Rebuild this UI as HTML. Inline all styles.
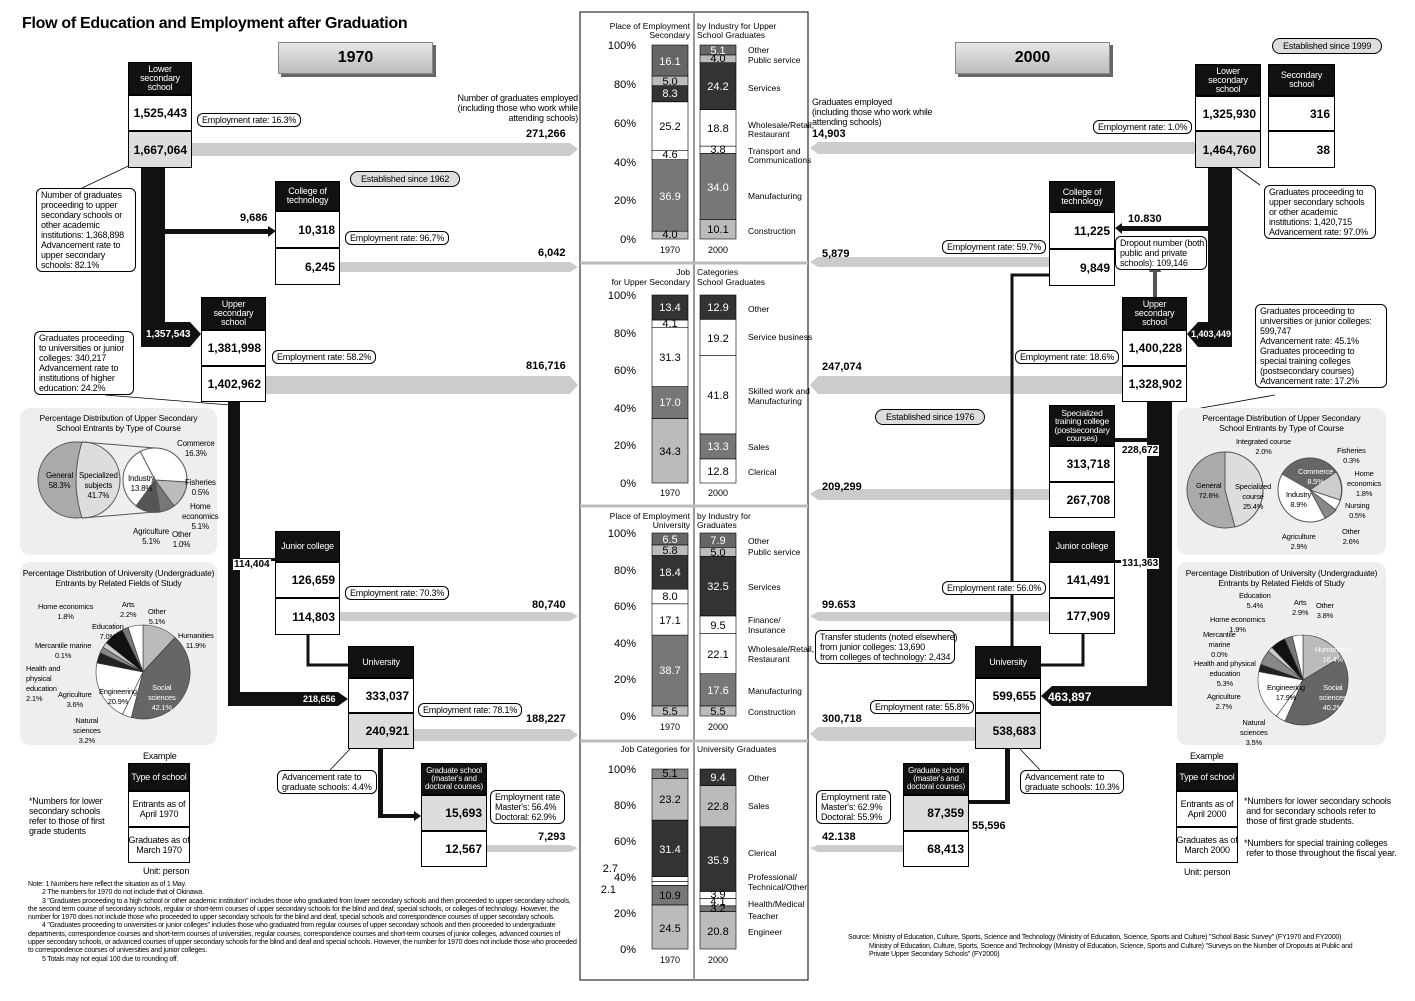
<!DOCTYPE html>
<html><head><meta charset="utf-8">
<style>
*{margin:0;padding:0;box-sizing:border-box}
body{width:1415px;height:1001px;position:relative;background:#fff;font-family:"Liberation Sans",sans-serif;color:#000;overflow:hidden}
.a{position:absolute}
.hd{position:absolute;background:#111;color:#fff;font-family:"Liberation Sans Narrow","Liberation Sans",sans-serif;font-size:9px;line-height:9px;text-align:center;display:flex;align-items:center;justify-content:center;border:1px solid #000;letter-spacing:-0.2px}
.bx{position:absolute;background:#fff;border:1px solid #000;font-weight:bold;font-size:12px;display:flex;align-items:center;justify-content:flex-end;padding-right:4px}
.g{background:#ddd}
.co{position:absolute;background:#fff;border:1px solid #000;border-radius:6px;font-family:"Liberation Sans Narrow","Liberation Sans",sans-serif;font-size:9px;line-height:10px;padding:1px 4px;letter-spacing:-0.2px}
.t{position:absolute;font-family:"Liberation Sans Narrow","Liberation Sans",sans-serif;font-size:9px;line-height:10px;letter-spacing:-0.2px}
.n{position:absolute;font-size:11px;font-weight:bold}
.nb{position:absolute;font-size:10px;font-weight:bold;background:#fff;padding:0 1px}
.nw{position:absolute;font-size:10px;font-weight:bold;color:#fff}
.ban{position:absolute;width:155px;height:32px;background:linear-gradient(#e8e8e8,#bbb);border:1px solid #888;box-shadow:3px 3px 0 #666;font-weight:bold;font-size:16px;text-align:center;line-height:30px}
.ex{position:absolute;background:#fff;border:1px solid #000;font-family:"Liberation Sans Narrow","Liberation Sans",sans-serif;font-size:9px;line-height:10px;display:flex;align-items:center;justify-content:center;text-align:center;letter-spacing:-0.2px}
</style></head><body>
<svg class="a" style="left:0;top:0" width="1415" height="1001">
<rect x="580" y="12" width="228" height="968" fill="#fff" stroke="#000"/>
<line x1="694" y1="12" x2="694" y2="980" stroke="#999" stroke-width="2"/>
<line x1="580" y1="263" x2="808" y2="263" stroke="#bbb" stroke-width="3"/>
<line x1="580" y1="506" x2="808" y2="506" stroke="#bbb" stroke-width="3"/>
<line x1="580" y1="741" x2="808" y2="741" stroke="#bbb" stroke-width="3"/>
<g stroke="#000" stroke-width="0.6">
<rect x="652" y="231.2" width="36" height="7.8" fill="#bbb"/>
<rect x="652" y="159.7" width="36" height="71.5" fill="#777"/>
<rect x="652" y="150.7" width="36" height="9" fill="#fff"/>
<rect x="652" y="101.8" width="36" height="48.9" fill="#fff"/>
<rect x="652" y="85.7" width="36" height="16.1" fill="#333"/>
<rect x="652" y="76" width="36" height="9.7" fill="#bbb"/>
<rect x="652" y="45" width="36" height="31" fill="#666"/>
<rect x="700" y="219.4" width="36" height="19.6" fill="#bbb"/>
<rect x="700" y="153.4" width="36" height="66" fill="#777"/>
<rect x="700" y="146.1" width="36" height="7.3" fill="#fff"/>
<rect x="700" y="109.6" width="36" height="36.5" fill="#fff"/>
<rect x="700" y="62.7" width="36" height="46.9" fill="#333"/>
<rect x="700" y="54.9" width="36" height="7.8" fill="#bbb"/>
<rect x="700" y="45" width="36" height="9.9" fill="#666"/>
<rect x="652" y="418.5" width="36" height="64.5" fill="#bbb"/>
<rect x="652" y="386.6" width="36" height="31.9" fill="#777"/>
<rect x="652" y="327.7" width="36" height="58.9" fill="#fff"/>
<rect x="652" y="320" width="36" height="7.7" fill="#fff"/>
<rect x="652" y="295" width="36" height="25" fill="#333"/>
<rect x="700" y="458.9" width="36" height="24.1" fill="#fff"/>
<rect x="700" y="433.9" width="36" height="25" fill="#777"/>
<rect x="700" y="355.3" width="36" height="78.6" fill="#fff"/>
<rect x="700" y="319.3" width="36" height="36" fill="#fff"/>
<rect x="700" y="295" width="36" height="24.3" fill="#333"/>
<rect x="652" y="705.9" width="36" height="10.1" fill="#bbb"/>
<rect x="652" y="635.1" width="36" height="70.8" fill="#777"/>
<rect x="652" y="603.8" width="36" height="31.3" fill="#fff"/>
<rect x="652" y="589.2" width="36" height="14.6" fill="#fff"/>
<rect x="652" y="555.5" width="36" height="33.7" fill="#333"/>
<rect x="652" y="544.9" width="36" height="10.6" fill="#bbb"/>
<rect x="652" y="533" width="36" height="11.9" fill="#666"/>
<rect x="700" y="705.9" width="36" height="10.1" fill="#bbb"/>
<rect x="700" y="673.7" width="36" height="32.2" fill="#777"/>
<rect x="700" y="633.3" width="36" height="40.4" fill="#fff"/>
<rect x="700" y="615.9" width="36" height="17.4" fill="#fff"/>
<rect x="700" y="556.4" width="36" height="59.5" fill="#333"/>
<rect x="700" y="547.3" width="36" height="9.1" fill="#bbb"/>
<rect x="700" y="533" width="36" height="14.3" fill="#666"/>
<rect x="652" y="904.9" width="36" height="44.1" fill="#bbb"/>
<rect x="652" y="885.3" width="36" height="19.6" fill="#777"/>
<rect x="652" y="881.5" width="36" height="3.8" fill="#fff"/>
<rect x="652" y="876.6" width="36" height="4.9" fill="#fff"/>
<rect x="652" y="820.1" width="36" height="56.5" fill="#333"/>
<rect x="652" y="778.4" width="36" height="41.7" fill="#bbb"/>
<rect x="652" y="769" width="36" height="9.4" fill="#888"/>
<rect x="700" y="911.6" width="36" height="37.4" fill="#bbb"/>
<rect x="700" y="905.8" width="36" height="5.8" fill="#777"/>
<rect x="700" y="898.4" width="36" height="7.4" fill="#fff"/>
<rect x="700" y="891.4" width="36" height="7" fill="#fff"/>
<rect x="700" y="826.8" width="36" height="64.6" fill="#333"/>
<rect x="700" y="785.7" width="36" height="41.1" fill="#bbb"/>
<rect x="700" y="769" width="36" height="16.7" fill="#333"/>
</g>
<g font-size="11" text-anchor="middle" font-family="Liberation Sans">
<text x="670" y="238">4.0</text><text x="670" y="200" fill="#fff">36.9</text><text x="670" y="158">4.6</text><text x="670" y="130">25.2</text><text x="670" y="97" fill="#fff">8.3</text><text x="670" y="85">5.0</text><text x="670" y="65" fill="#fff">16.1</text>
<text x="718" y="233">10.1</text><text x="718" y="191" fill="#fff">34.0</text><text x="718" y="153">3.8</text><text x="718" y="132">18.8</text><text x="718" y="90" fill="#fff">24.2</text><text x="718" y="62">4.0</text><text x="718" y="54" fill="#fff">5.1</text>
<text x="670" y="455">34.3</text><text x="670" y="406" fill="#fff">17.0</text><text x="670" y="361">31.3</text><text x="670" y="327">4.1</text><text x="670" y="311" fill="#fff">13.4</text>
<text x="718" y="475">12.8</text><text x="718" y="450" fill="#fff">13.3</text><text x="718" y="399">41.8</text><text x="718" y="342">19.2</text><text x="718" y="311" fill="#fff">12.9</text>
<text x="670" y="715">5.5</text><text x="670" y="674" fill="#fff">38.7</text><text x="670" y="624">17.1</text><text x="670" y="600">8.0</text><text x="670" y="576" fill="#fff">18.4</text><text x="670" y="554">5.8</text><text x="670" y="543" fill="#fff">6.5</text>
<text x="718" y="715">5.5</text><text x="718" y="694" fill="#fff">17.6</text><text x="718" y="658">22.1</text><text x="718" y="629">9.5</text><text x="718" y="590" fill="#fff">32.5</text><text x="718" y="556">5.0</text><text x="718" y="544" fill="#fff">7.9</text>
<text x="670" y="932">24.5</text><text x="670" y="899">10.9</text><text x="670" y="853" fill="#fff">31.4</text><text x="670" y="803">23.2</text><text x="670" y="777">5.1</text>
<text x="718" y="935">20.8</text><text x="718" y="912">3.2</text><text x="718" y="905">4.1</text><text x="718" y="898">3.9</text><text x="718" y="864" fill="#fff">35.9</text><text x="718" y="810">22.8</text><text x="718" y="781" fill="#fff">9.4</text>
</g>
<g font-size="11" text-anchor="end" font-family="Liberation Sans">
<text x="636" y="49">100%</text><text x="636" y="88">80%</text><text x="636" y="127">60%</text><text x="636" y="166">40%</text><text x="636" y="204">20%</text><text x="636" y="243">0%</text>
<text x="636" y="299">100%</text><text x="636" y="337">80%</text><text x="636" y="374">60%</text><text x="636" y="412">40%</text><text x="636" y="449">20%</text><text x="636" y="487">0%</text>
<text x="636" y="537">100%</text><text x="636" y="574">80%</text><text x="636" y="610">60%</text><text x="636" y="647">40%</text><text x="636" y="683">20%</text><text x="636" y="720">0%</text>
<text x="636" y="773">100%</text><text x="636" y="809">80%</text><text x="636" y="845">60%</text><text x="636" y="881">40%</text><text x="636" y="917">20%</text><text x="636" y="953">0%</text>
<text x="618" y="872">2.7</text><text x="616" y="893">2.1</text>
</g>
<g font-size="9" text-anchor="middle" font-family="Liberation Sans">
<text x="670" y="496">1970</text><text x="718" y="496">2000</text>
<text x="670" y="730">1970</text><text x="718" y="730">2000</text>
<text x="670" y="963">1970</text><text x="718" y="963">2000</text>
<text x="670" y="253">1970</text><text x="718" y="253">2000</text>
</g>
<g font-size="8.5" font-family="Liberation Sans Narrow, Liberation Sans">
<text x="690" y="29" text-anchor="end">Place of Employment</text><text x="690" y="38" text-anchor="end">Secondary</text>
<text x="697" y="29">by Industry for Upper</text><text x="697" y="38">School Graduates</text>
<text x="690" y="275" text-anchor="end">Job</text><text x="690" y="285" text-anchor="end">for Upper Secondary</text>
<text x="697" y="275">Categories</text><text x="697" y="285">School Graduates</text>
<text x="690" y="519" text-anchor="end">Place of Employment</text><text x="690" y="528" text-anchor="end">University</text>
<text x="697" y="519">by Industry for</text><text x="697" y="528">Graduates</text>
<text x="690" y="752" text-anchor="end">Job Categories for</text><text x="697" y="752">University Graduates</text>
<text x="748" y="53">Other</text><text x="748" y="63">Public service</text><text x="748" y="91">Services</text><text x="748" y="128">Wholesale/Retail,</text><text x="748" y="137">Restaurant</text><text x="748" y="154">Transport and</text><text x="748" y="163">Communications</text><text x="748" y="199">Manufacturing</text><text x="748" y="234">Construction</text>
<text x="748" y="312">Other</text><text x="748" y="340">Service business</text><text x="748" y="394">Skilled work and</text><text x="748" y="404">Manufacturing</text><text x="748" y="450">Sales</text><text x="748" y="475">Clerical</text>
<text x="748" y="544">Other</text><text x="748" y="555">Public service</text><text x="748" y="590">Services</text><text x="748" y="623">Finance/</text><text x="748" y="633">Insurance</text><text x="748" y="652">Wholesale/Retail,</text><text x="748" y="662">Restaurant</text><text x="748" y="694">Manufacturing</text><text x="748" y="715">Construction</text>
<text x="748" y="781">Other</text><text x="748" y="809">Sales</text><text x="748" y="856">Clerical</text><text x="748" y="880">Professional/</text><text x="748" y="890">Technical/Other</text><text x="748" y="907">Health/Medical</text><text x="748" y="919">Teacher</text><text x="748" y="935">Engineer</text>
</g>
<g fill="#ccc">
<polygon points="192,143 570,143 578,149 570,156 192,156"/>
<polygon points="340,262 570,262 578,267 570,272 340,272"/>
<polygon points="266,376 570,376 578,385 570,394 266,394"/>
<polygon points="340,612 570,612 578,616 570,621 340,621"/>
<polygon points="414,729 570,729 578,735 570,741 414,741"/>
<polygon points="487,845 570,845 578,848 570,852 487,852"/>
<polygon points="1195,142 818,142 810,148 818,154 1195,154"/>
<polygon points="1049,257 818,257 810,262 818,267 1049,267"/>
<polygon points="1122,376 818,376 810,385 818,394 1122,394"/>
<polygon points="1049,489 818,489 810,494 818,500 1049,500"/>
<polygon points="1049,612 818,612 810,616 818,621 1049,621"/>
<polygon points="975,727 818,727 810,734 818,741 975,741"/>
<polygon points="903,845 818,845 810,848 818,852 903,852"/>
</g>
<g fill="#111">
<rect x="141" y="168" width="24" height="156"/>
<polygon points="141,322 190,322 201,334 190,347 141,347"/>
<rect x="165" y="229" width="104" height="5"/>
<polygon points="268,226 276,231 268,237"/>
<rect x="228" y="402" width="12" height="303"/>
<polygon points="228,692 338,692 348,699 338,706 228,706"/>
<rect x="240" y="558" width="35" height="3"/>
<rect x="378" y="749" width="5" height="69"/>
<rect x="378" y="814" width="38" height="4"/>
<polygon points="414,811 421,816 414,821"/>
<rect x="1208" y="168" width="24" height="156"/>
<polygon points="1232,322 1198,322 1187,334 1198,347 1232,347"/>
<rect x="1122" y="226" width="86" height="5"/>
<polygon points="1122,223 1115,228 1122,234"/>
<rect x="1147" y="402" width="25" height="303"/>
<polygon points="1172,686 1052,686 1041,696 1052,706 1172,706"/>
<rect x="1115" y="438" width="32" height="4"/>
<rect x="1115" y="560" width="32" height="3"/>
<rect x="1005" y="749" width="5" height="55"/>
<rect x="969" y="800" width="41" height="4"/>
</g>
<g stroke="#111" stroke-width="3" fill="none">
<polyline points="308,635 308,665 348,665"/>
<polyline points="1049,275 1012,275 1012,646"/>
<polyline points="1083,634 1083,665 1041,665"/>
</g>
<polygon points="1155,255 1149,272 1161,272" fill="#555"/>
<rect x="1153" y="270" width="4" height="27" fill="#555"/>
<g stroke="#000" stroke-width="0.8" fill="none">
<line x1="82" y1="188" x2="141" y2="160"/>
<line x1="105" y1="395" x2="230" y2="405"/>
<line x1="1260" y1="185" x2="1232" y2="165"/>
<line x1="1275" y1="395" x2="1190" y2="410"/>
<line x1="330" y1="770" x2="350" y2="749"/>
<line x1="1040" y1="770" x2="1020" y2="749"/>
</g>
<rect x="20" y="408" width="197" height="147" rx="10" fill="#eee"/>
<rect x="20" y="562" width="197" height="183" rx="10" fill="#eee"/>
<rect x="1177" y="408" width="209" height="147" rx="10" fill="#eee"/>
<rect x="1177" y="562" width="209" height="183" rx="10" fill="#eee"/>
<ellipse cx="76" cy="480" rx="38" ry="38" fill="#aaa" stroke="#555"/>
<path d="M82,442 A38,38 0 0,1 82,518 Q70,480 82,442Z" fill="#ddd" stroke="#555"/>
<line x1="82" y1="442" x2="155" y2="448" stroke="#555"/>
<line x1="82" y1="518" x2="155" y2="512" stroke="#555"/>
<circle cx="155" cy="480" r="32" fill="#fff" stroke="#555"/>
<path d="M155,480 L187,482 A32,32 0 0,1 174,506Z" fill="#bbb" stroke="#555"/>
<path d="M155,480 L174,506 A32,32 0 0,1 160,512Z" fill="#777" stroke="#555"/>
<path d="M155,480 L160,512 A32,32 0 0,1 136,506Z" fill="#555" stroke="#555"/>
<line x1="155" y1="480" x2="140" y2="451" stroke="#555"/>
<g stroke="#333" stroke-width="0.6">
<path d="M143,672 L143,625 A47,47 0 0,1 175,637.5Z" fill="#bbb"/>
<path d="M143,672 L175,637.5 A47,47 0 0,1 131.3,717.5Z" fill="#666"/>
<path d="M143,672 L131.3,717.5 A47,47 0 0,1 122.5,714.3Z" fill="#fff"/>
<path d="M143,672 L122.5,714.3 A47,47 0 0,1 96.9,662.9Z" fill="#fff"/>
<path d="M143,672 L96.9,662.9 A47,47 0 0,1 100.1,652.8Z" fill="#222"/>
<path d="M143,672 L100.1,652.8 A47,47 0 0,1 103,647.3Z" fill="#888"/>
<path d="M143,672 L103,647.3 A47,47 0 0,1 106.2,642.7Z" fill="#ccc"/>
<path d="M143,672 L106.2,642.7 A47,47 0 0,1 122.2,629.9Z" fill="#111"/>
<path d="M143,672 L122.2,629.9 A47,47 0 0,1 128.2,627.4Z" fill="#777"/>
<path d="M143,672 L128.2,627.4 A47,47 0 0,1 143,625Z" fill="#fff"/>
</g>
<circle cx="1225" cy="490" r="38" fill="#aaa" stroke="#555"/>
<path d="M1225,490 L1225,452 A38,38 0 0,1 1263,490 A38,38 0 0,1 1235,527Z" fill="#ddd" stroke="#555"/>
<circle cx="1310" cy="490" r="32" fill="#fff" stroke="#555"/>
<path d="M1310,490 L1282,474 A32,32 0 0,1 1336,472Z" fill="#666" stroke="#555"/>
<path d="M1310,490 L1336,472 A32,32 0 0,1 1340,500Z" fill="#ccc" stroke="#555"/>
<path d="M1310,490 L1336,510 A32,32 0 0,1 1325,518Z" fill="#888" stroke="#555"/>
<g stroke="#333" stroke-width="0.6">
<path d="M1303,680 L1303,635 A45,45 0 0,1 1341.6,656.8Z" fill="#bbb"/>
<path d="M1303,680 L1341.6,656.8 A45,45 0 0,1 1284.9,721.2Z" fill="#666"/>
<path d="M1303,680 L1284.9,721.2 A45,45 0 0,1 1276.3,716.2Z" fill="#fff"/>
<path d="M1303,680 L1276.3,716.2 A45,45 0 0,1 1258.8,671.6Z" fill="#fff"/>
<path d="M1303,680 L1258.8,671.6 A45,45 0 0,1 1260.8,664.3Z" fill="#222"/>
<path d="M1303,680 L1260.8,664.3 A45,45 0 0,1 1268.3,651.3Z" fill="#888"/>
<path d="M1303,680 L1268.3,651.3 A45,45 0 0,1 1271.9,647.4Z" fill="#ccc"/>
<path d="M1303,680 L1271.9,647.4 A45,45 0 0,1 1284.6,638.9Z" fill="#111"/>
<path d="M1303,680 L1284.6,638.9 A45,45 0 0,1 1292.3,636.3Z" fill="#777"/>
<path d="M1303,680 L1292.3,636.3 A45,45 0 0,1 1303,635Z" fill="#fff"/>
</g>
</svg>

<div class="a" style="left:22px;top:15px;font-size:16px;font-weight:bold;letter-spacing:-0.3px">Flow of Education and Employment after Graduation</div>
<div class="ban" style="left:278px;top:42px">1970</div>
<div class="ban" style="left:955px;top:42px">2000</div>
<div class="co" style="left:1272px;top:38px;border-radius:10px;background:#ddd;padding:2px 10px">Established since 1999</div>
<div class="co" style="left:350px;top:171px;border-radius:10px;background:#ddd;padding:2px 10px">Established since 1962</div>
<div class="co" style="left:875px;top:409px;border-radius:10px;background:#ddd;padding:2px 10px">Established since 1976</div>

<div class="hd" style="left:128px;top:62px;width:64px;height:33px">Lower<br>secondary<br>school</div>
<div class="bx" style="left:128px;top:95px;width:64px;height:36px">1,525,443</div>
<div class="bx g" style="left:128px;top:131px;width:64px;height:37px">1,667,064</div>
<div class="hd" style="left:275px;top:181px;width:65px;height:30px">College of<br>technology</div>
<div class="bx" style="left:275px;top:211px;width:65px;height:37px">10,318</div>
<div class="bx" style="left:275px;top:248px;width:65px;height:37px">6,245</div>
<div class="hd" style="left:201px;top:297px;width:65px;height:33px">Upper<br>secondary<br>school</div>
<div class="bx" style="left:201px;top:330px;width:65px;height:36px">1,381,998</div>
<div class="bx" style="left:201px;top:366px;width:65px;height:36px">1,402,962</div>
<div class="hd" style="left:275px;top:531px;width:65px;height:31px">Junior college</div>
<div class="bx" style="left:275px;top:562px;width:65px;height:36px">126,659</div>
<div class="bx" style="left:275px;top:598px;width:65px;height:37px">114,803</div>
<div class="hd" style="left:348px;top:646px;width:66px;height:32px">University</div>
<div class="bx" style="left:348px;top:678px;width:66px;height:35px">333,037</div>
<div class="bx g" style="left:348px;top:713px;width:66px;height:36px">240,921</div>
<div class="hd" style="left:421px;top:763px;width:66px;height:32px;font-size:8px;line-height:8px">Graduate school<br>(master's and<br>doctoral courses)</div>
<div class="bx g" style="left:421px;top:795px;width:66px;height:36px">15,693</div>
<div class="bx" style="left:421px;top:831px;width:66px;height:36px">12,567</div>

<div class="hd" style="left:1195px;top:64px;width:66px;height:32px">Lower<br>secondary<br>school</div>
<div class="bx" style="left:1195px;top:96px;width:66px;height:35px">1,325,930</div>
<div class="bx g" style="left:1195px;top:131px;width:66px;height:37px">1,464,760</div>
<div class="hd" style="left:1268px;top:64px;width:67px;height:32px">Secondary<br>school</div>
<div class="bx" style="left:1268px;top:96px;width:67px;height:35px">316</div>
<div class="bx" style="left:1268px;top:131px;width:67px;height:37px">38</div>
<div class="hd" style="left:1049px;top:181px;width:66px;height:31px">College of<br>technology</div>
<div class="bx" style="left:1049px;top:212px;width:66px;height:37px">11,225</div>
<div class="bx" style="left:1049px;top:249px;width:66px;height:37px">9,849</div>
<div class="hd" style="left:1122px;top:297px;width:65px;height:33px">Upper<br>secondary<br>school</div>
<div class="bx" style="left:1122px;top:330px;width:65px;height:36px">1,400,228</div>
<div class="bx" style="left:1122px;top:366px;width:65px;height:36px">1,328,902</div>
<div class="hd" style="left:1049px;top:405px;width:66px;height:41px;font-size:8.5px;line-height:8.5px">Specialized<br>training college<br>(postsecondary<br>courses)</div>
<div class="bx" style="left:1049px;top:446px;width:66px;height:36px">313,718</div>
<div class="bx" style="left:1049px;top:482px;width:66px;height:36px">267,708</div>
<div class="hd" style="left:1049px;top:531px;width:66px;height:31px">Junior college</div>
<div class="bx" style="left:1049px;top:562px;width:66px;height:36px">141,491</div>
<div class="bx" style="left:1049px;top:598px;width:66px;height:36px">177,909</div>
<div class="hd" style="left:975px;top:646px;width:66px;height:32px">University</div>
<div class="bx" style="left:975px;top:678px;width:66px;height:35px">599,655</div>
<div class="bx g" style="left:975px;top:713px;width:66px;height:36px">538,683</div>
<div class="hd" style="left:903px;top:763px;width:66px;height:32px;font-size:8px;line-height:8px">Graduate school<br>(master's and<br>doctoral courses)</div>
<div class="bx g" style="left:903px;top:795px;width:66px;height:36px">87,359</div>
<div class="bx" style="left:903px;top:831px;width:66px;height:36px">68,413</div>

<div class="n" style="left:526px;top:128px">271,266</div>
<div class="n" style="left:240px;top:212px">9,686</div>
<div class="n" style="left:538px;top:247px">6,042</div>
<div class="nw" style="left:146px;top:329px">1,357,543</div>
<div class="n" style="left:526px;top:360px">816,716</div>
<div class="nb" style="left:233px;top:559px">114,404</div>
<div class="n" style="left:532px;top:599px">80,740</div>
<div class="nw" style="left:303px;top:694px;font-size:9px">218,656</div>
<div class="n" style="left:526px;top:713px">188,227</div>
<div class="n" style="left:538px;top:831px">7,293</div>
<div class="n" style="left:812px;top:128px">14,903</div>
<div class="n" style="left:1128px;top:213px">10.830</div>
<div class="n" style="left:822px;top:248px">5,879</div>
<div class="nw" style="left:1191px;top:329px;font-size:9px">1,403,449</div>
<div class="n" style="left:822px;top:361px">247,074</div>
<div class="nb" style="left:1121px;top:445px">228,672</div>
<div class="n" style="left:822px;top:481px">209,299</div>
<div class="nb" style="left:1121px;top:558px">131,363</div>
<div class="n" style="left:822px;top:599px">99.653</div>
<div class="nw" style="left:1048px;top:690px;font-size:12px">463,897</div>
<div class="n" style="left:822px;top:713px">300,718</div>
<div class="n" style="left:972px;top:820px">55,596</div>
<div class="n" style="left:822px;top:831px">42.138</div>

<div class="co" style="left:197px;top:113px">Employment rate: 16.3%</div>
<div class="co" style="left:345px;top:231px">Employment rate: 96.7%</div>
<div class="co" style="left:272px;top:350px">Employment rate: 58.2%</div>
<div class="co" style="left:345px;top:586px">Employment rate: 70.3%</div>
<div class="co" style="left:418px;top:703px">Employment rate: 78.1%</div>
<div class="co" style="left:36px;top:188px;width:100px">Number of graduates proceeding to upper secondary schools or other academic institutions: 1,368,898 Advancement rate to upper secondary schools: 82.1%</div>
<div class="co" style="left:34px;top:331px;width:100px">Graduates proceeding to universities or junior colleges: 340,217 Advancement rate to institutions of higher education: 24.2%</div>
<div class="co" style="left:277px;top:770px">Advancement rate to<br>graduate schools: 4.4%</div>
<div class="co" style="left:490px;top:790px">Employment rate<br>Master's: 56.4%<br>Doctoral: 62.9%</div>
<div class="t" style="left:420px;top:93px;text-align:right;width:158px;white-space:nowrap">Number of graduates employed<br>(including those who work while<br>attending schools)</div>
<div class="co" style="left:1093px;top:120px">Employment rate: 1.0%</div>
<div class="co" style="left:942px;top:240px">Employment rate: 59.7%</div>
<div class="co" style="left:1015px;top:350px">Employment rate: 18.6%</div>
<div class="co" style="left:942px;top:581px">Employment rate: 56.0%</div>
<div class="co" style="left:870px;top:700px">Employment rate: 55.8%</div>
<div class="co" style="left:1264px;top:185px;width:112px">Graduates proceeding to upper secondary schools or other academic institutions: 1,420,715 Advancement rate: 97.0%</div>
<div class="co" style="left:1255px;top:304px;width:132px">Graduates proceeding to universities or junior colleges: 599,747<br>Advancement rate: 45.1%<br>Graduates proceeding to special training colleges (postsecondary courses)<br>Advancement rate: 17.2%</div>
<div class="co" style="left:1115px;top:236px;width:92px;white-space:nowrap">Dropout number (both<br>public and private<br>schools): 109,146</div>
<div class="co" style="left:815px;top:630px;width:140px;white-space:nowrap">Transfer students (noted elsewhere)<br>from junior colleges: 13,690<br>from colleges of technology: 2,434</div>
<div class="co" style="left:1020px;top:770px">Advancement rate to<br>graduate schools: 10.3%</div>
<div class="co" style="left:816px;top:790px">Employment rate<br>Master's: 62.9%<br>Doctoral: 55.9%</div>
<div class="t" style="left:812px;top:97px;white-space:nowrap">Graduates employed<br>(including those who work while<br>attending schools)</div>

<div class="t" style="left:22px;top:413px;width:193px;text-align:center;font-size:8.5px">Percentage Distribution of Upper Secondary<br>School Entrants by Type of Course</div>
<div class="t" style="left:46px;top:471px;font-size:8px;text-align:center">General<br>58.3%</div>
<div class="t" style="left:79px;top:471px;font-size:8px;text-align:center">Specialized<br>subjects<br>41.7%</div>
<div class="t" style="left:128px;top:474px;font-size:8px;text-align:center">Industry<br>13.8%</div>
<div class="t" style="left:177px;top:439px;font-size:8px;text-align:center">Commerce<br>16.3%</div>
<div class="t" style="left:185px;top:478px;font-size:8px;text-align:center">Fisheries<br>0.5%</div>
<div class="t" style="left:182px;top:502px;font-size:8px;text-align:center">Home<br>economics<br>5.1%</div>
<div class="t" style="left:133px;top:527px;font-size:8px;text-align:center">Agriculture<br>5.1%</div>
<div class="t" style="left:172px;top:530px;font-size:8px;text-align:center">Other<br>1.0%</div>
<div class="t" style="left:22px;top:568px;width:193px;text-align:center;font-size:8.5px">Percentage Distribution of University (Undergraduate)<br>Entrants by Related Fields of Study</div>
<div class="t" style="left:38px;top:602px;font-size:7.5px;text-align:center">Home economics<br>1.8%</div>
<div class="t" style="left:120px;top:600px;font-size:7.5px;text-align:center">Arts<br>2.2%</div>
<div class="t" style="left:148px;top:607px;font-size:7.5px;text-align:center">Other<br>5.1%</div>
<div class="t" style="left:92px;top:622px;font-size:7.5px;text-align:center">Education<br>7.0%</div>
<div class="t" style="left:178px;top:631px;font-size:7.5px;text-align:center">Humanities<br>11.9%</div>
<div class="t" style="left:35px;top:641px;font-size:7.5px;text-align:center">Mercantile marine<br>0.1%</div>
<div class="t" style="left:26px;top:664px;font-size:7.5px">Health and<br>physical<br>education<br>2.1%</div>
<div class="t" style="left:58px;top:690px;font-size:7.5px;text-align:center">Agriculture<br>3.6%</div>
<div class="t" style="left:99px;top:687px;font-size:7.5px;text-align:center">Engineering<br>20.9%</div>
<div class="t" style="left:148px;top:683px;font-size:7.5px;text-align:center;color:#fff">Social<br>sciences<br>42.1%</div>
<div class="t" style="left:73px;top:716px;font-size:7.5px;text-align:center">Natural<br>sciences<br>3.2%</div>
<div class="t" style="left:1180px;top:413px;width:203px;text-align:center;font-size:8.5px">Percentage Distribution of Upper Secondary<br>School Entrants by Type of Course</div>
<div class="t" style="left:1236px;top:437px;font-size:7.5px;text-align:center">Integrated course<br>2.0%</div>
<div class="t" style="left:1196px;top:481px;font-size:7.5px;text-align:center">General<br>72.6%</div>
<div class="t" style="left:1235px;top:482px;font-size:7.5px;text-align:center">Specialized<br>course<br>25.4%</div>
<div class="t" style="left:1298px;top:467px;font-size:7.5px;text-align:center;color:#fff">Commerce<br>8.5%</div>
<div class="t" style="left:1286px;top:490px;font-size:7.5px;text-align:center">Industry<br>8.9%</div>
<div class="t" style="left:1337px;top:446px;font-size:7.5px;text-align:center">Fisheries<br>0.3%</div>
<div class="t" style="left:1347px;top:469px;font-size:7.5px;text-align:center">Home<br>economics<br>1.8%</div>
<div class="t" style="left:1345px;top:501px;font-size:7.5px;text-align:center">Nursing<br>0.5%</div>
<div class="t" style="left:1342px;top:527px;font-size:7.5px;text-align:center">Other<br>2.6%</div>
<div class="t" style="left:1282px;top:532px;font-size:7.5px;text-align:center">Agriculture<br>2.9%</div>
<div class="t" style="left:1180px;top:568px;width:203px;text-align:center;font-size:8.5px">Percentage Distribution of University (Undergraduate)<br>Entrants by Related Fields of Study</div>
<div class="t" style="left:1239px;top:591px;font-size:7.5px;text-align:center">Education<br>5.4%</div>
<div class="t" style="left:1292px;top:598px;font-size:7.5px;text-align:center">Arts<br>2.9%</div>
<div class="t" style="left:1316px;top:601px;font-size:7.5px;text-align:center">Other<br>3.8%</div>
<div class="t" style="left:1210px;top:615px;font-size:7.5px;text-align:center">Home economics<br>1.9%</div>
<div class="t" style="left:1203px;top:630px;font-size:7.5px;text-align:center">Mercantile<br>marine<br>0.0%</div>
<div class="t" style="left:1194px;top:659px;font-size:7.5px;text-align:center">Health and physical<br>education<br>5.3%</div>
<div class="t" style="left:1315px;top:645px;font-size:7.5px;text-align:center;color:#fff">Humanities<br>16.4%</div>
<div class="t" style="left:1319px;top:683px;font-size:7.5px;text-align:center;color:#fff">Social<br>sciences<br>40.2%</div>
<div class="t" style="left:1267px;top:683px;font-size:7.5px;text-align:center">Engineering<br>17.9%</div>
<div class="t" style="left:1207px;top:692px;font-size:7.5px;text-align:center">Agriculture<br>2.7%</div>
<div class="t" style="left:1240px;top:718px;font-size:7.5px;text-align:center">Natural<br>sciences<br>3.5%</div>

<div class="t" style="left:143px;top:751px">Example</div>
<div class="hd" style="left:128px;top:763px;width:62px;height:28px">Type of school</div>
<div class="ex" style="left:128px;top:791px;width:62px;height:36px">Entrants as of<br>April 1970</div>
<div class="ex" style="left:128px;top:827px;width:62px;height:36px;white-space:nowrap">Graduates as of<br>March 1970</div>
<div class="t" style="left:143px;top:866px">Unit: person</div>
<div class="t" style="left:29px;top:796px">*Numbers for lower<br>secondary schools<br>refer to those of first<br>grade students</div>
<div class="t" style="left:1190px;top:751px">Example</div>
<div class="hd" style="left:1176px;top:763px;width:62px;height:28px">Type of school</div>
<div class="ex" style="left:1176px;top:791px;width:62px;height:36px">Entrants as of<br>April 2000</div>
<div class="ex" style="left:1176px;top:827px;width:62px;height:36px;white-space:nowrap">Graduates as of<br>March 2000</div>
<div class="t" style="left:1184px;top:867px">Unit: person</div>
<div class="t" style="left:1244px;top:796px;white-space:nowrap">*Numbers for lower secondary schools<br>&nbsp;and for secondary schools refer to<br>&nbsp;those of first grade students.</div>
<div class="t" style="left:1244px;top:838px;white-space:nowrap">*Numbers for special training colleges<br>&nbsp;refer to those throughout the fiscal year.</div>

<div class="t" style="left:28px;top:881px;width:550px;font-size:7px;line-height:8.3px">Note: 1 Numbers here reflect the situation as of 1 May.<br>&nbsp;&nbsp;&nbsp;&nbsp;&nbsp;&nbsp;&nbsp;&nbsp;2 The numbers for 1970 do not include that of Okinawa.<br>&nbsp;&nbsp;&nbsp;&nbsp;&nbsp;&nbsp;&nbsp;&nbsp;3 "Graduates proceeding to a high school or other academic institution" includes those who graduated from lower secondary schools and then proceeded to upper secondary schools, the second term course of secondary schools, regular or short-term courses of upper secondary schools for the blind and deaf, special schools, or colleges of technology. However, the number for 1970 does not include those who proceeded to upper secondary schools for the blind and deaf, special schools and correspondence courses of upper secondary schools.<br>&nbsp;&nbsp;&nbsp;&nbsp;&nbsp;&nbsp;&nbsp;&nbsp;4 "Graduates proceeding to universities or junior colleges" includes those who graduated from regular courses of upper secondary schools and then proceeded to undergraduate departments, correspondence courses and short-term courses of universities, regular courses, correspondence courses and short-term courses of junior colleges, advanced courses of upper secondary schools, or advanced courses of upper secondary schools for the blind and deaf and special schools. However, the number for 1970 does not include those who proceeded to correspondence courses of universities and junior colleges.<br>&nbsp;&nbsp;&nbsp;&nbsp;&nbsp;&nbsp;&nbsp;&nbsp;5 Totals may not equal 100 due to rounding off.</div>
<div class="t" style="left:848px;top:934px;width:540px;font-size:7px;line-height:8.5px">Source: Ministry of Education, Culture, Sports, Science and Technology (Ministry of Education, Science, Sports and Culture) "School Basic Survey" (FY1970 and FY2000)<br>&nbsp;&nbsp;&nbsp;&nbsp;&nbsp;&nbsp;&nbsp;&nbsp;&nbsp;&nbsp;&nbsp;&nbsp;Ministry of Education, Culture, Sports, Science and Technology (Ministry of Education, Science, Sports and Culture) "Surveys on the Number of Dropouts at Public and<br>&nbsp;&nbsp;&nbsp;&nbsp;&nbsp;&nbsp;&nbsp;&nbsp;&nbsp;&nbsp;&nbsp;&nbsp;Private Upper Secondary Schools" (FY2000)</div>
</body></html>
